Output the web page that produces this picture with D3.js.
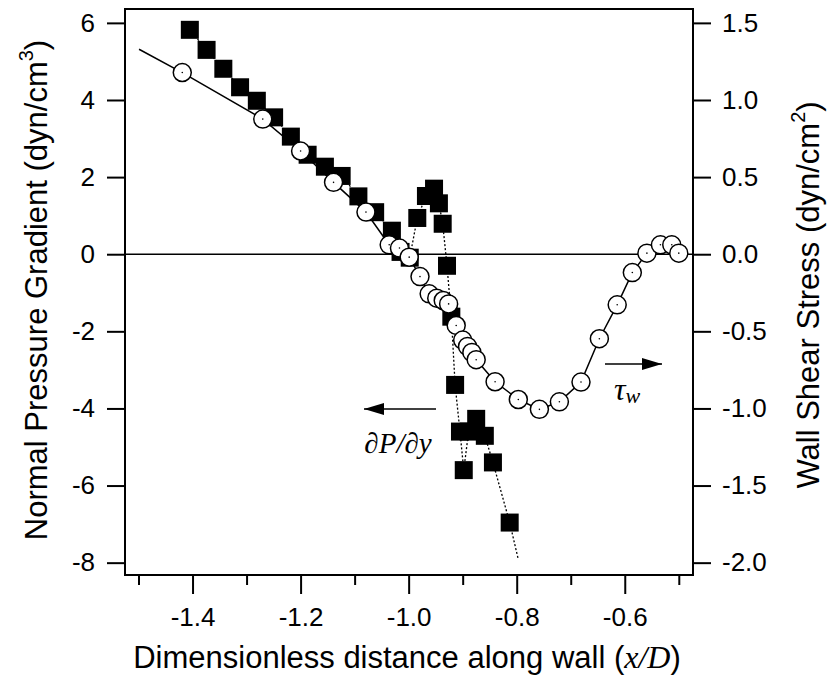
<!DOCTYPE html>
<html>
<head>
<meta charset="utf-8">
<script src="https://cdn.jsdelivr.net/npm/d3@7"></script>
<style>
body { margin: 0; background: #fff; }
text { font-family: "Liberation Sans", Arial, sans-serif; }
</style>
</head>
<body>
<script>
var width = 831;
var height = 683;

// normal pressure gradient dP/dy (left axis, dyn/cm^3)
var dpdyX = [-1.405,-1.374,-1.343,-1.312,-1.281,-1.249,-1.218,-1.187,-1.155,-1.124,
	-1.093,-1.062,-1.031,-1.015,-0.998,-0.984,-0.968,-0.953,-0.944,-0.937,
	-0.929,-0.921,-0.914,-0.905,-0.898,-0.889,-0.875,-0.859,-0.844,-0.813];
var dpdyY = [5.82,5.30,4.81,4.33,3.98,3.55,3.05,2.58,2.27,2.03,
	1.50,1.09,0.61,0.06,-0.09,0.94,1.51,1.70,1.32,0.79,
	-0.30,-1.62,-3.39,-4.60,-5.60,-4.60,-4.27,-4.71,-5.40,-6.96];
// where the dotted line runs on past the last marker
var dpdyTail = [-0.797,-7.92];

// wall shear stress tau_w (right axis, dyn/cm^2)
var tauX = [-1.419,-1.270,-1.200,-1.139,-1.079,-1.036,-1.017,-0.999,-0.979,-0.962,
	-0.948,-0.936,-0.926,-0.912,-0.900,-0.891,-0.883,-0.875,-0.840,-0.797,
	-0.758,-0.721,-0.681,-0.647,-0.614,-0.586,-0.559,-0.534,-0.513,-0.500];
var tauY = [1.178,0.876,0.669,0.466,0.273,0.061,0.040,-0.019,-0.145,-0.257,
	-0.285,-0.300,-0.322,-0.462,-0.557,-0.598,-0.637,-0.684,-0.827,-0.942,
	-1.006,-0.957,-0.829,-0.548,-0.328,-0.119,0.007,0.061,0.061,0.007];
// where the solid line starts before the first marker
var tauHead = [-1.499,1.329];

var xTicks = [-1.4,-1.2,-1.0,-0.8,-0.6];
var xMinorTicks = [-1.5,-1.3,-1.1,-0.9,-0.7,-0.5];
var leftTicks = [-8,-6,-4,-2,0,2,4,6];
var rightTicks = [-2.0,-1.5,-1.0,-0.5,0.0,0.5,1.0,1.5];

var plot = {left:125,right:693,top:9,bottom:575};

var xScale = d3.scaleLinear()
.domain([-1.525,-0.4737])
.range([plot.left,plot.right]);

var yLeft = d3.scaleLinear()
.domain([-8.32,6.36])
.range([plot.bottom,plot.top]);

var yRight = d3.scaleLinear()
.domain([-8.32/4,6.36/4])
.range([plot.bottom,plot.top]);

var svg = d3.select("body")
.append("svg")
.attr("width",width)
.attr("height",height);

// plain hyphen instead of the unicode minus
function fmt(spec){
	var f = d3.format(spec);
	return function(d){ return f(d).replace("\u2212","-"); };
}

// axes
var xAxis = d3.axisBottom(xScale)
.tickValues(xTicks)
.tickSize(19)
.tickSizeOuter(0)
.tickPadding(14)
.tickFormat(fmt(".1f"));

var xMinor = d3.axisBottom(xScale)
.tickValues(xMinorTicks)
.tickSize(10)
.tickSizeOuter(0)
.tickFormat("");

var leftAxis = d3.axisLeft(yLeft)
.tickValues(leftTicks)
.tickSize(18)
.tickSizeOuter(0)
.tickPadding(12)
.tickFormat(fmt("d"));

var rightAxis = d3.axisRight(yRight)
.tickValues(rightTicks)
.tickSize(18)
.tickSizeOuter(0)
.tickPadding(11)
.tickFormat(fmt(".1f"));

function styleAxis(g){
	g.select(".domain").remove();
	g.selectAll(".tick line").attr("stroke","#000").attr("stroke-width",2);
	g.selectAll(".tick text")
	.attr("fill","#000")
	.attr("font-size","26px")
	.attr("font-family","'Liberation Sans', Arial, sans-serif");
}

svg.append("g")
.attr("transform","translate(0," + plot.bottom + ")")
.call(xAxis)
.call(styleAxis);

svg.append("g")
.attr("transform","translate(0," + plot.bottom + ")")
.call(xMinor)
.call(styleAxis);

svg.append("g")
.attr("transform","translate(" + plot.left + ",0)")
.call(leftAxis)
.call(styleAxis);

svg.append("g")
.attr("transform","translate(" + plot.right + ",0)")
.call(rightAxis)
.call(styleAxis);

// frame
svg.append("rect")
.attr("x",plot.left)
.attr("y",plot.top)
.attr("width",plot.right - plot.left)
.attr("height",plot.bottom - plot.top)
.attr("fill","none")
.attr("stroke","#000")
.attr("stroke-width",2);

// zero line
svg.append("line")
.attr("x1",plot.left)
.attr("x2",plot.right)
.attr("y1",yLeft(0))
.attr("y2",yLeft(0))
.attr("stroke","#000")
.attr("stroke-width",1.5);

// dotted dP/dy line
var dpdyPts = dpdyX.map(function(d,i){ return [d,dpdyY[i]]; });
var dotLine = d3.line()
.x(function(d){ return xScale(d[0]); })
.y(function(d){ return yLeft(d[1]); });

svg.append("path")
.attr("d",dotLine(dpdyPts.concat([dpdyTail])))
.attr("fill","none")
.attr("stroke","#000")
.attr("stroke-width",1.3)
.attr("stroke-dasharray","2,2");

svg.selectAll(".sq")
.data(dpdyPts)
.enter()
.append("rect")
.attr("class","sq")
.attr("x",function(d){ return xScale(d[0]) - 9; })
.attr("y",function(d){ return yLeft(d[1]) - 9; })
.attr("width",18)
.attr("height",18)
.attr("fill","#000");

// tau_w line and circles
var tauPts = tauX.map(function(d,i){ return [d,tauY[i]]; });
var solidLine = d3.line()
.x(function(d){ return xScale(d[0]); })
.y(function(d){ return yRight(d[1]); });

svg.append("path")
.attr("d",solidLine([tauHead].concat(tauPts)))
.attr("fill","none")
.attr("stroke","#000")
.attr("stroke-width",1.5);

var circ = svg.selectAll(".circ")
.data(tauPts)
.enter()
.append("g")
.attr("class","circ")
.attr("transform",function(d){
	return "translate(" + xScale(d[0]) + "," + yRight(d[1]) + ")";
});

circ.append("circle")
.attr("r",9)
.attr("fill","#fff")
.attr("stroke","#000")
.attr("stroke-width",1.5);

circ.append("circle")
.attr("r",0.8)
.attr("fill","#000");

// arrows
var defs = svg.append("defs");
defs.append("marker")
.attr("id","head")
.attr("viewBox","0 0 20 12")
.attr("refX",20)
.attr("refY",6)
.attr("markerWidth",20)
.attr("markerHeight",12)
.attr("markerUnits","userSpaceOnUse")
.attr("orient","auto")
.append("path")
.attr("d","M0,0 L20,6 L0,12 Z")
.attr("fill","#000");

svg.append("line")
.attr("x1",436)
.attr("y1",409)
.attr("x2",364)
.attr("y2",409)
.attr("stroke","#000")
.attr("stroke-width",1.5)
.attr("marker-end","url(#head)");

svg.append("line")
.attr("x1",605)
.attr("y1",364)
.attr("x2",662)
.attr("y2",364)
.attr("stroke","#000")
.attr("stroke-width",1.5)
.attr("marker-end","url(#head)");

svg.append("text")
.attr("x",398)
.attr("y",453)
.attr("text-anchor","middle")
.attr("font-size","29px")
.attr("font-style","italic")
.style("font-family","'Liberation Serif', 'Times New Roman', serif")
.text("\u2202P/\u2202y");

var tau = svg.append("text")
.attr("x",614)
.attr("y",400)
.style("font-family","'Liberation Serif', 'Times New Roman', serif")
.attr("font-size","32px")
.attr("font-style","italic");
tau.append("tspan").text("\u03C4");
tau.append("tspan").attr("font-size","22px").attr("dy",3).text("w");

// axis titles
var xt = svg.append("text")
.attr("x",407)
.attr("y",668)
.attr("text-anchor","middle")
.attr("font-size","31px");
xt.append("tspan").text("Dimensionless distance along wall (");
xt.append("tspan")
.style("font-family","'Liberation Serif', 'Times New Roman', serif")
.attr("font-style","italic")
.attr("font-size","32px")
.text("x/D");
xt.append("tspan").text(")");

var lt = svg.append("text")
.attr("transform","translate(47,290) rotate(-90)")
.attr("text-anchor","middle")
.attr("font-size","31px");
lt.append("tspan").text("Normal Pressure Gradient  (dyn/cm");
lt.append("tspan").attr("font-size","20px").attr("dy",-14).text("3");
lt.append("tspan").attr("dy",14).text(")");

var rt = svg.append("text")
.attr("transform","translate(819,295) rotate(-90)")
.attr("text-anchor","middle")
.attr("font-size","31px");
rt.append("tspan").text("Wall Shear Stress  (dyn/cm");
rt.append("tspan").attr("font-size","20px").attr("dy",-14).text("2");
rt.append("tspan").attr("dy",14).text(")");
</script>
</body>
</html>
